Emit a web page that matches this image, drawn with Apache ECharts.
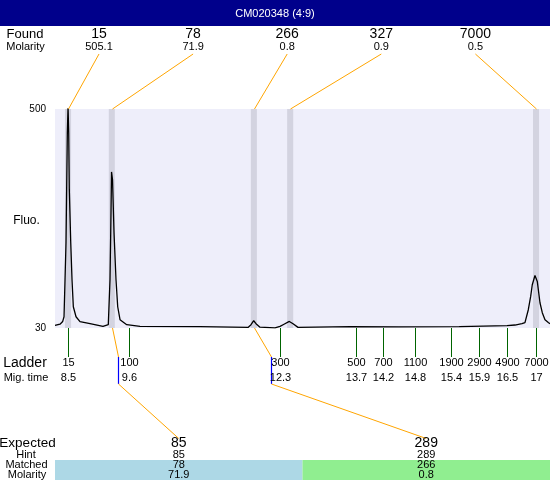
<!DOCTYPE html>
<html>
<head>
<meta charset="utf-8">
<script src="https://cdn.jsdelivr.net/npm/echarts@6/dist/echarts.min.js"></script>
<style>html,body{margin:0;padding:0;background:#fff}#c{width:550px;height:480px}</style>
</head>
<body>
<div id="c"></div>
<script>
// ---- data ----
const title = 'CM020348 (4:9)';
const traceTime = [8.258,8.349,8.398,8.422,8.440,8.458,8.471,8.482,8.495,8.507,8.518,8.544,8.567,8.591,8.640,8.712,8.894,9.130,9.226,9.257,9.270,9.285,9.303,9.330,9.366,9.397,9.439,9.561,9.802,10.892,11.764,11.818,11.867,11.909,11.981,12.254,12.345,12.418,12.514,12.582,12.672,13.616,14.5,15.6,16.47,16.612,16.740,16.794,16.855,16.898,16.927,16.976,17.018,17.067,17.109,17.158,17.218,17.249];
const traceFluo = [35.6,38.1,44.1,54.2,133.5,212.8,341.4,448.5,505,448.5,326.4,212.8,133.5,75.6,54.2,43.5,39.2,33.4,37.1,133.5,234.2,365,347.8,234.2,133.5,75.6,47.8,37.1,33.4,32.8,31.3,37.1,45.6,39.2,31.7,30.2,33.4,38.1,44.1,39.2,31.3,32.8,32.2,32.8,34.9,36.4,39.2,41.4,69.2,97.7,122.8,142.7,129.9,84.2,62.8,47.8,42.0,39.2];
const yTicks = [30, 500];
const foundSize = ['15','78','266','327','7000'];
const foundMolarity = ['505.1','71.9','0.8','0.9','0.5'];
const foundTime = [8.495, 9.29, 11.87, 12.53, 16.995];
const ladderSize = ['15','100','300','500','700','1100','1900','2900','4900','7000'];
const ladderTimeLabel = ['8.5','9.6','12.3','13.7','14.2','14.8','15.4','15.9','16.5','17'];
const ladderTime = [8.5, 9.6, 12.35, 13.73, 14.22, 14.80, 15.456, 15.965, 16.473, 17.0];
const expectedSize = ['85','289'];
const hintSize = ['85','289'];
const matchedSize = ['78','266'];
const matchedMolarity = ['71.9','0.8'];
const matchedPeakTime = [9.29, 11.87];
const matchedMarkTime = [9.40, 12.19];

// ---- layout / style ----
const W = 550, H = 480;
const PL = 55, PT = 109, PH = 219, PB = PT + PH;
const FONT = '"Liberation Sans", Arial, sans-serif';
const ORANGE = '#FFA500', GREEN = '#006400', BLUE = '#0000FF';
const BAND_HALF = 0.055;

const chart = echarts.init(document.getElementById('c'), null, {renderer: 'canvas'});

chart.setOption({
  animation: false,
  grid: {left: PL, right: 0, top: PT, height: PH, show: true, backgroundColor: '#EEEEFA', borderWidth: 0},
  xAxis: {type: 'value', min: 8.258, max: 17.249, show: false},
  yAxis: {type: 'value', min: yTicks[0], max: yTicks[1], interval: yTicks[1] - yTicks[0],
    axisLine: {show: false}, axisTick: {show: false}, splitLine: {show: false},
    axisLabel: {show: true, color: '#000', fontSize: 10, fontFamily: FONT, margin: 9}},
  series: [{
    type: 'line', data: traceTime.map((t, i) => [t, traceFluo[i]]),
    showSymbol: false, symbol: 'none', clip: true,
    lineStyle: {color: '#000', width: 1.3}, z: 3,
    markArea: {silent: true, itemStyle: {color: '#D3D3E0'},
      data: foundTime.map(t => [{xAxis: t - BAND_HALF}, {xAxis: t + BAND_HALF}])}
  }]
});

function px(t) { return chart.convertToPixel({gridIndex: 0}, [t, yTicks[0]])[0]; }

const g = [];
function text(x, y, s, size, opts) {
  g.push(Object.assign({type: 'text', x: x, y: y, z: 10,
    style: Object.assign({text: s, fill: '#000', font: size + 'px ' + FONT, align: 'center', verticalAlign: 'middle'}, opts || {})}));
}
function line(x1, y1, x2, y2, color, w) {
  g.push({type: 'line', z: 9, shape: {x1: x1, y1: y1, x2: x2, y2: y2}, style: {stroke: color, lineWidth: w || 1}});
}

// title bar
g.push({type: 'rect', shape: {x: 0, y: 0, width: W, height: 26}, style: {fill: '#00008B'}});
text(W / 2, 13.5, title, 11, {fill: '#fff'});

// found row
text(25, 34, 'Found', 13);
text(25.5, 47, 'Molarity', 11);
foundSize.forEach((s, i) => {
  const lx = 99 + 94.1 * i;
  text(lx, 34, s, 14);
  text(lx, 47, foundMolarity[i], 11);
  line(lx, 54, Math.round(px(foundTime[i])) + 0.5, PT, ORANGE, 1);
});

// y label
text(26.5, 221, 'Fluo.', 12);

// ladder
text(25, 363, 'Ladder', 14);
text(26, 378, 'Mig. time', 11);
ladderSize.forEach((s, i) => {
  const x = Math.round(px(ladderTime[i])) + 0.5;
  line(x, PB, x, 357, GREEN, 1);
  text(x, 363, s, 11);
  text(x, 377.5, ladderTimeLabel[i], 11);
});

// expected table
const colW = (W - PL) / expectedSize.length;
const colColors = ['#ADD8E6', '#90EE90'];
text(27.5, 443, 'Expected', 13.5);
text(26, 455, 'Hint', 11);
text(26.5, 465, 'Matched', 11);
text(27, 474.5, 'Molarity', 11);
expectedSize.forEach((s, i) => {
  const x0 = PL + colW * i, cx = x0 + colW / 2;
  g.push({type: 'rect', z: 1, shape: {x: x0, y: 460, width: colW, height: 20}, style: {fill: colColors[i]}});
  text(cx, 443.5, s, 14);
  text(cx, 455, hintSize[i], 11);
  text(cx, 465, matchedSize[i], 11);
  text(cx, 474.5, matchedMolarity[i], 11);
  const pxk = Math.round(px(matchedPeakTime[i])) + 0.5;
  const mx = Math.round(px(matchedMarkTime[i])) + 0.5;
  line(pxk, PB, mx, 357, ORANGE, 1);
  line(mx, 357, mx, 384, BLUE, 1.2);
  line(mx, 384, cx, 438.5, ORANGE, 1);
});

chart.setOption({graphic: {elements: g}});
</script>
</body>
</html>
